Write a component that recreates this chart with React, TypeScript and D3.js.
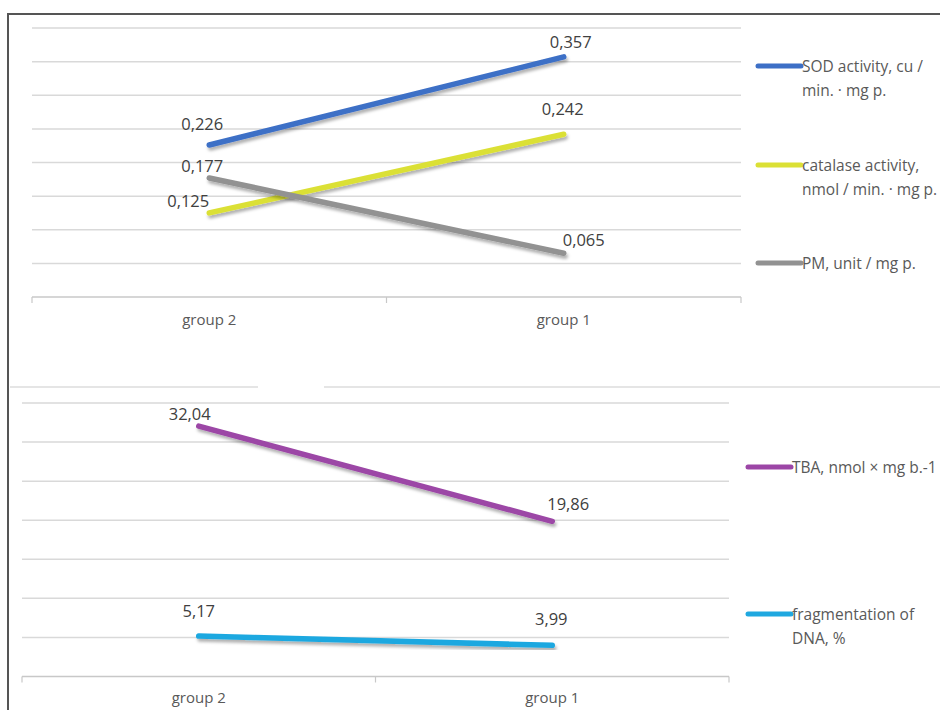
import React from "react";
import * as d3 from "d3";

const categories = ["group 2", "group 1"];

const topSeriesNames = [
  ["SOD activity, cu /", "min. · mg p."],
  ["catalase activity,", "nmol / min. · mg p."],
  ["PM, unit / mg p."],
];
const sodValues = [0.226, 0.357];
const catalaseValues = [0.125, 0.242];
const pmValues = [0.177, 0.065];

const bottomSeriesNames = [["TBA, nmol × mg b.-1"], ["fragmentation of", "DNA, %"]];
const tbaValues = [32.04, 19.86];
const dnaValues = [5.17, 3.99];

const topTickValues = [0, 0.05, 0.1, 0.15, 0.2, 0.25, 0.3, 0.35, 0.4];
const bottomTickValues = [0, 5, 10, 15, 20, 25, 30, 35];

// layout / style (not data)
const topColors = ["#3d6fc6", "#dbe035", "#929292"];
const bottomColors = ["#9c46a6", "#1fa8e0"];
const topLabelOffsets = [
  [[-7, -15], [7, -9]],
  [[-21, -6], [-1, -19]],
  [[-7, -6], [20, -7]],
];
const bottomLabelOffsets = [
  [[-9, -6], [16, -11]],
  [[0, -19], [-1, -20]],
];
const topLegendY = [66, 165, 263];
const bottomLegendY = [467, 614];

const FONT = "'Open Sans', sans-serif";
const TEXT = "#404040";
const GRID = "#d9d9d9";

const fmt3 = (v: number) => d3.format(".3f")(v).replace(".", ",");
const fmt2 = (v: number) => d3.format(".2f")(v).replace(".", ",");

type PanelProps = {
  x0: number;
  x1: number;
  yBottom: number;
  yTop: number;
  domainMax: number;
  ticks: number[];
  series: number[][];
  colors: string[];
  offsets: number[][][];
  fmt: (v: number) => string;
  catLabelY: number;
  legendNames: string[][];
  legendY: number[];
  legendX0: number;
  legendX1: number;
};

function Panel(p: PanelProps) {
  const x = d3.scaleBand<string>().domain(categories).range([p.x0, p.x1]).padding(0);
  const y = d3.scaleLinear().domain([0, p.domainMax]).range([p.yBottom, p.yTop]);
  const cx = (c: string) => (x(c) as number) + x.bandwidth() / 2;
  const line = d3
    .line<number>()
    .x((_, i) => cx(categories[i]))
    .y((d) => y(d));
  const edges = [p.x0, ...categories.map((c) => (x(c) as number) + x.bandwidth())];
  return (
    <g>
      {p.ticks
        .filter((t) => t > 0)
        .map((t) => (
          <line key={t} x1={p.x0} x2={p.x1} y1={y(t)} y2={y(t)} stroke={GRID} strokeWidth={1.5} />
        ))}
      <line x1={p.x0} x2={p.x1} y1={y(0)} y2={y(0)} stroke="#c8c8c8" strokeWidth={1.5} />
      {edges.map((e, i) => (
        <line key={i} x1={e} x2={e} y1={y(0)} y2={y(0) + 6} stroke="#c8c8c8" strokeWidth={1.2} />
      ))}
      {categories.map((c) => (
        <text
          key={c}
          x={cx(c)}
          y={p.catLabelY}
          textAnchor="middle"
          fontFamily={FONT}
          fontSize={15}
          fill="#595959"
        >
          {c}
        </text>
      ))}
      {p.series.map((s, si) => (
        <path
          key={si}
          d={line(s) || ""}
          fill="none"
          stroke={p.colors[si]}
          strokeWidth={5.5}
          strokeLinecap="round"
          filter="url(#shadow)"
        />
      ))}
      {p.series.map((s, si) =>
        s.map((v, i) => (
          <text
            key={si + "-" + i}
            x={cx(categories[i]) + p.offsets[si][i][0]}
            y={y(v) + p.offsets[si][i][1]}
            textAnchor="middle"
            fontFamily={FONT}
            fontSize={16.5}
            fill={TEXT}
          >
            {p.fmt(v)}
          </text>
        ))
      )}
      {p.legendNames.map((names, si) => (
        <g key={si}>
          <line
            x1={p.legendX0}
            x2={p.legendX1}
            y1={p.legendY[si]}
            y2={p.legendY[si]}
            stroke={p.colors[si]}
            strokeWidth={5}
            strokeLinecap="round"
          />
          {names.map((n, li) => (
            <text
              key={li}
              x={p.legendX1 + 1}
              y={p.legendY[si] + 6 + li * 23.5}
              fontFamily={FONT}
              fontSize={15.5}
              fill="#595959"
            >
              {n}
            </text>
          ))}
        </g>
      ))}
    </g>
  );
}

export default function App() {
  return (
    <svg
      width={940}
      height={710}
      style={{ position: "absolute", left: 0, top: 0, background: "#fff" }}
    >
      <defs>
        <filter id="shadow" x="-20%" y="-50%" width="140%" height="200%">
          <feDropShadow dx={1.5} dy={3} stdDeviation={1.8} floodColor="#000" floodOpacity={0.3} />
        </filter>
      </defs>
      <rect x={0} y={0} width={940} height={710} fill="#fff" />
      <line x1={7} x2={940} y1={14} y2={14} stroke="#555" strokeWidth={2} />
      <line x1={8} x2={8} y1={13} y2={710} stroke="#555" strokeWidth={2} />
      <line x1={10} x2={258} y1={387} y2={387} stroke="#dcdcdc" strokeWidth={1.3} />
      <line x1={324} x2={940} y1={387} y2={387} stroke="#dcdcdc" strokeWidth={1.3} />
      <Panel
        x0={32}
        x1={741}
        yBottom={297}
        yTop={28}
        domainMax={0.4}
        ticks={topTickValues}
        series={[sodValues, catalaseValues, pmValues]}
        colors={topColors}
        offsets={topLabelOffsets}
        fmt={fmt3}
        catLabelY={325}
        legendNames={topSeriesNames}
        legendY={topLegendY}
        legendX0={758}
        legendX1={801}
      />
      <Panel
        x0={22}
        x1={729}
        yBottom={676.5}
        yTop={403}
        domainMax={35}
        ticks={bottomTickValues}
        series={[tbaValues, dnaValues]}
        colors={bottomColors}
        offsets={bottomLabelOffsets}
        fmt={fmt2}
        catLabelY={703}
        legendNames={bottomSeriesNames}
        legendY={bottomLegendY}
        legendX0={748}
        legendX1={791}
      />
    </svg>
  );
}
